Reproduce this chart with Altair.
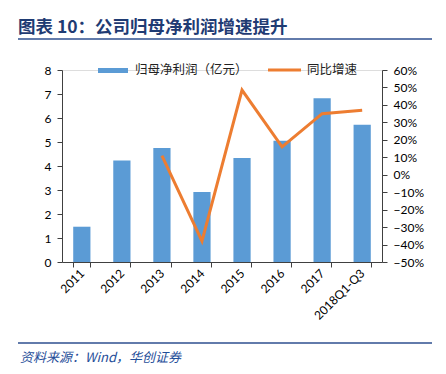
import altair as alt
import pandas as pd

years = ["2011", "2012", "2013", "2014", "2015", "2016", "2017", "2018Q1-Q3"]
profit = [1.47, 4.23, 4.75, 2.92, 4.33, 5.05, 6.82, 5.72]
growth = [None, None, 0.11, -0.38, 0.485, 0.16, 0.35, 0.37]

title_text = "图表 10：公司归母净利润增速提升"
source_text = "资料来源：Wind，华创证券"
bar_name = "归母净利润（亿元）"
line_name = "同比增速"

df = pd.DataFrame({"year": years, "profit": profit, "growth": growth})

FONT = "Lato"
AX = "#404040"
BLUE = "#5B9BD5"
ORANGE = "#ED7D31"
NAVY = "#1F3B73"

xenc = alt.X("year:N", sort=years, title=None,
             scale=alt.Scale(paddingInner=0.57, paddingOuter=0.28),
             axis=alt.Axis(labelAngle=-45, labelAlign="right", labelBaseline="middle",
                           labelPadding=4, tickBand="extent", tickSize=5,
                           domainColor=AX, tickColor=AX, labelColor="#000000",
                           labelFont=FONT, labelFontSize=12, grid=False))

base = alt.Chart(df)

bars = base.mark_bar(color=BLUE).encode(
    x=xenc,
    y=alt.Y("profit:Q", title=None,
            scale=alt.Scale(domain=[0, 8], nice=False),
            axis=alt.Axis(orient="left", values=list(range(0, 9)), tickSize=5,
                          domainColor=AX, tickColor=AX, labelColor="#000000",
                          labelFont=FONT, labelFontSize=12, labelPadding=6, grid=False)),
)

line = base.mark_line(color=ORANGE, strokeWidth=3).encode(
    x=xenc,
    y=alt.Y("growth:Q", title=None,
            scale=alt.Scale(domain=[-0.5, 0.6], nice=False),
            axis=alt.Axis(orient="right", values=[i / 10 for i in range(-5, 7)], format=".0%",
                          tickSize=5, domainColor=AX, tickColor=AX, labelColor="#000000",
                          labelFont=FONT, labelFontSize=12, labelPadding=6, grid=False)),
)

# decorations: title, rules, legend, source
deco = pd.DataFrame({"k": [0]})
d = alt.Chart(deco)

title = d.mark_text(text=title_text, align="left", baseline="alphabetic", font="Noto Sans CJK SC",
                    fontWeight="bold", fontSize=17.5, color=NAVY).encode(
    x=alt.value(-44), y=alt.value(-37))
title_rule = d.mark_rule(color="#2E4F8F", strokeWidth=1.5).encode(
    x=alt.value(-44), x2=alt.value(370), y=alt.value(-31))
foot_rule = d.mark_rule(color="#2E4F8F", strokeWidth=1.5).encode(
    x=alt.value(-44), x2=alt.value(370), y=alt.value(273))
source = d.mark_text(text=source_text, align="left", baseline="alphabetic", font="Noto Sans CJK SC",
                     fontStyle="italic", fontSize=13, color="#1F4E99").encode(
    x=alt.value(-42), y=alt.value(292))

leg_rect = d.mark_rect(color=BLUE).encode(
    x=alt.value(36), x2=alt.value(66), y=alt.value(-2), y2=alt.value(3))
leg_text1 = d.mark_text(text=bar_name, align="left", baseline="middle", font="Noto Sans CJK SC",
                        fontSize=12.5, color="#222222").encode(x=alt.value(73), y=alt.value(0))
leg_line = d.mark_rule(color=ORANGE, strokeWidth=3).encode(
    x=alt.value(206), x2=alt.value(239), y=alt.value(0))
leg_text2 = d.mark_text(text=line_name, align="left", baseline="middle", font="Noto Sans CJK SC",
                        fontSize=12.5, color="#222222").encode(x=alt.value(245), y=alt.value(0))

chart = alt.layer(
    bars, line, title, title_rule, foot_rule, source, leg_rect, leg_text1, leg_line, leg_text2
).resolve_scale(y="independent").properties(
    width=320, height=192,
    autosize=alt.AutoSizeParams(type="none"),
    padding={"left": 54, "top": 62, "right": 50, "bottom": 104},
).configure_view(stroke=None).configure(background="white")

chart.save("out.html", embed_options={"renderer": "svg", "actions": False})
